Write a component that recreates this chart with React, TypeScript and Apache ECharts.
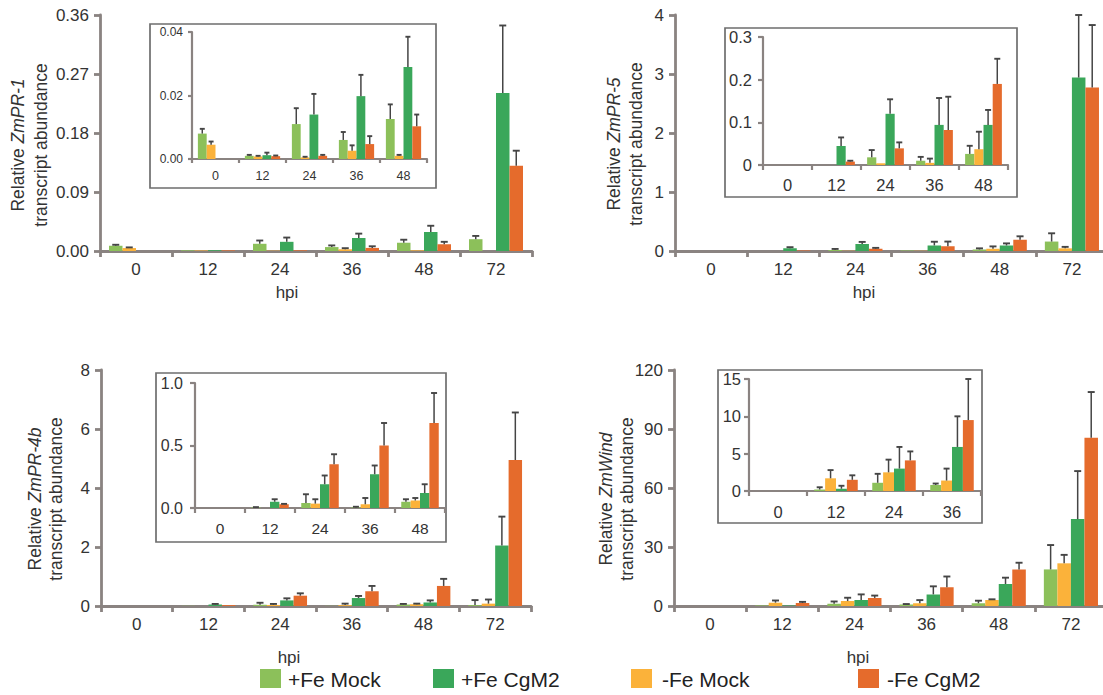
import React, { useEffect, useRef } from 'react';
import * as echarts from 'echarts';

// ---------- data ----------
const hpiLabels = ['0', '12', '24', '36', '48', '72'];
const seriesNames = ['+Fe Mock', '-Fe Mock', '+Fe CgM2', '-Fe CgM2'];
const seriesColors = ['#8cc05a', '#fbb23a', '#3aa75a', '#e56b2c'];

// order of rows: +Fe Mock, -Fe Mock, +Fe CgM2, -Fe CgM2 ; columns: 0,12,24,36,48,72 hpi
const pr1Mean = [
  [0.008, 0.001, 0.011, 0.006, 0.0126, 0.018],
  [0.0045, 0.0008, 0.0005, 0.0026, 0.001, 0],
  [0, 0.0012, 0.014, 0.0198, 0.029, 0.241],
  [0, 0.0009, 0.001, 0.0047, 0.0103, 0.13],
];
const pr1Sd = [
  [0.0015, 0.0003, 0.005, 0.0025, 0.0046, 0.005],
  [0.001, 0.0002, 0.0002, 0.0017, 0.0003, 0],
  [0, 0.0008, 0.0065, 0.0067, 0.0095, 0.103],
  [0, 0.0002, 0.0003, 0.0025, 0.0037, 0.023],
];

const pr5Mean = [
  [0, 0, 0.018, 0.01, 0.026, 0.16],
  [0, 0, 0.004, 0.005, 0.037, 0.045],
  [0, 0.0446, 0.12, 0.094, 0.094, 2.94],
  [0, 0.008, 0.039, 0.082, 0.19, 2.77],
];
const pr5Sd = [
  [0, 0, 0.017, 0.009, 0.019, 0.14],
  [0, 0, 0, 0.01, 0.041, 0.025],
  [0, 0.02, 0.034, 0.063, 0.035, 1.06],
  [0, 0.002, 0.014, 0.078, 0.059, 1.06],
];

const pr4bMean = [
  [0, 0.005, 0.04, 0.005, 0.05, 0.03],
  [0, 0, 0.035, 0.03, 0.06, 0.08],
  [0, 0.05, 0.19, 0.27, 0.12, 2.05],
  [0, 0.03, 0.35, 0.5, 0.68, 4.95],
];
const pr4bSd = [
  [0, 0.002, 0.07, 0.005, 0.02, 0.17],
  [0, 0, 0.035, 0.05, 0.02, 0.14],
  [0, 0.02, 0.07, 0.07, 0.07, 0.98],
  [0, 0.003, 0.08, 0.18, 0.24, 1.61],
];

const windMean = [
  [0, 0.2, 1.1, 0.8, 1.4, 18.6],
  [0, 1.7, 2.5, 1.4, 3.0, 21.7],
  [0, 0.3, 3.0, 5.9, 11.2, 44.2],
  [0, 1.5, 4.1, 9.5, 18.6, 85.6],
];
const windSd = [
  [0, 0.3, 1.2, 0.2, 1.3, 12.4],
  [0, 1.1, 1.7, 1.6, 0.4, 4.3],
  [0, 0.4, 2.9, 4.1, 3.2, 24.4],
  [0, 0.6, 1.2, 5.5, 3.4, 23.2],
];

const geneNames = ['PR-1', 'PR-5', 'PR-4b', 'Wind'];

// ---------- styling / layout ----------
const AXIS = '#8a8381';
const ERR = '#454545';
const LABEL = '#333333';
const FONT = '"Liberation Sans", Arial, Helvetica, sans-serif';

type Plot = {
  left: number; top: number; width: number; height: number;
  max: number; interval: number; dec: number;
  yFont: number; xFont: number; yMargin: number; xMargin: number;
  lw: number; tick: number; n: number; cap: number;
};

const mainPlot = (left: number, top: number, width: number, max: number, interval: number, dec: number): Plot => ({
  left, top, width, height: 236, max, interval, dec,
  yFont: 17, xFont: 17, yMargin: 11, xMargin: 10, lw: 2.8, tick: 6, n: 6, cap: 7,
});

const panels = [
  {
    mean: pr1Mean, sd: pr1Sd, gene: geneNames[0],
    main: mainPlot(100, 15, 432, 0.36, 0.09, 2),
    inset: { left: 192, top: 32, width: 235, height: 127, max: 0.04, interval: 0.02, dec: 2, yFont: 12, xFont: 12.5, yMargin: 9, xMargin: 10, lw: 2.2, tick: 4, n: 5, cap: 5 },
    box: [150, 24, 286, 164],
    title: { x1: 18, x2: 41, y: 145 },
  },
  {
    mean: pr5Mean, sd: pr5Sd, gene: geneNames[1],
    main: mainPlot(675, 15, 433, 4, 1, -1),
    inset: { left: 763, top: 37, width: 245, height: 128, max: 0.3, interval: 0.1, dec: -1, yFont: 16.5, xFont: 16.5, yMargin: 11, xMargin: 11, lw: 2.2, tick: 5, n: 5, cap: 6 },
    box: [725, 28, 292, 169],
    title: { x1: 614, x2: 636, y: 144 },
  },
  {
    mean: pr4bMean, sd: pr4bSd, gene: geneNames[2],
    main: mainPlot(101, 370, 430, 8, 2, -1),
    inset: { left: 195, top: 383, width: 250, height: 125, max: 1, interval: 0.5, dec: 1, yFont: 16, xFont: 15.5, yMargin: 12, xMargin: 12, lw: 2.2, tick: 5, n: 5, cap: 6 },
    box: [156, 373, 290, 169],
    title: { x1: 35, x2: 56, y: 499 },
  },
  {
    mean: windMean, sd: windSd, gene: geneNames[3],
    main: mainPlot(674, 370, 433, 120, 30, -1),
    inset: { left: 749, top: 379, width: 232, height: 112, max: 15, interval: 5, dec: -1, yFont: 16.5, xFont: 16.5, yMargin: 8, xMargin: 12, lw: 2.2, tick: 5, n: 4, cap: 6 },
    box: [718, 370, 264, 153],
    title: { x1: 606, x2: 627, y: 499 },
  },
];

const hpiText = [
  [287, 292], [864, 292], [289, 657], [858, 657],
];
const legendPos = [
  [260, 288], [433, 461], [631, 662], [858, 887],
];
const legendOrder = [0, 2, 1, 3];

function buildOption() {
  const grid: any[] = [];
  const xAxis: any[] = [];
  const yAxis: any[] = [];
  const series: any[] = [];
  const graphic: any[] = [];

  panels.forEach((p) => {
    graphic.push({
      type: 'rect',
      shape: { x: p.box[0], y: p.box[1], width: p.box[2], height: p.box[3] },
      style: { fill: '#ffffff', stroke: '#6e6e6e', lineWidth: 1.7 },
      z: -1,
    });

    [p.main, p.inset].forEach((plot: Plot) => {
      const gi = grid.length;
      grid.push({ left: plot.left, top: plot.top, width: plot.width, height: plot.height, containLabel: false });
      xAxis.push({
        type: 'category',
        gridIndex: gi,
        data: hpiLabels.slice(0, plot.n),
        boundaryGap: true,
        axisLine: { show: true, lineStyle: { color: AXIS, width: plot.lw } },
        axisTick: { show: true, length: plot.tick, lineStyle: { color: AXIS, width: plot.lw } },
        axisLabel: { fontSize: plot.xFont, color: LABEL, fontFamily: FONT, margin: plot.xMargin },
        splitLine: { show: false },
      });
      yAxis.push({
        type: 'value',
        gridIndex: gi,
        min: 0,
        max: plot.max,
        interval: plot.interval,
        axisLine: { show: true, lineStyle: { color: AXIS, width: plot.lw } },
        axisTick: { show: true, length: plot.tick, lineStyle: { color: AXIS, width: plot.lw } },
        axisLabel: {
          fontSize: plot.yFont, color: LABEL, fontFamily: FONT, margin: plot.yMargin,
          formatter: (v: number) => (plot.dec >= 0 ? v.toFixed(plot.dec) : String(Math.round(v * 1000) / 1000)),
        },
        splitLine: { show: false },
      });

      const nSeries = seriesNames.length;
      for (let s = 0; s < nSeries; s++) {
        series.push({
          type: 'bar',
          name: seriesNames[s],
          xAxisIndex: gi,
          yAxisIndex: gi,
          data: p.mean[s].slice(0, plot.n),
          barGap: '0%',
          barCategoryGap: '25%',
          itemStyle: { color: seriesColors[s] },
          silent: true,
        });
      }
      const errData: any[] = [];
      for (let s = 0; s < nSeries; s++) {
        for (let c = 0; c < plot.n; c++) {
          const m = p.mean[s][c];
          const sd = p.sd[s][c];
          if (sd > 0 && m + sd > plot.max * 0.006) errData.push([c, m, m + sd, s]);
        }
      }
      series.push({
        type: 'custom',
        xAxisIndex: gi,
        yAxisIndex: gi,
        data: errData,
        encode: { x: 0, y: 2 },
        silent: true,
        z: 5,
        renderItem: (params: any, api: any) => {
          const c = api.value(0);
          const m = api.value(1);
          const t = api.value(2);
          const s = api.value(3);
          const catW = api.size([1, 0])[0];
          const bw = (catW * 0.75) / nSeries;
          const base = api.coord([c, m]);
          const top = api.coord([c, t]);
          const x = base[0] + (s - (nSeries - 1) / 2) * bw;
          const cap = plot.cap;
          return {
            type: 'group',
            children: [
              { type: 'line', shape: { x1: x, y1: base[1], x2: x, y2: top[1] }, style: { stroke: ERR, lineWidth: 1.5 } },
              { type: 'line', shape: { x1: x - cap / 2, y1: top[1], x2: x + cap / 2, y2: top[1] }, style: { stroke: ERR, lineWidth: 1.9 } },
            ],
          };
        },
      });
    });

    graphic.push({
      type: 'text',
      x: p.title.x1,
      y: p.title.y,
      rotation: Math.PI / 2,
      style: {
        text: '{n|Relative }{i|Zm' + p.gene + '}',
        align: 'center',
        verticalAlign: 'middle',
        rich: {
          n: { fontSize: 17.5, fontFamily: FONT, fill: LABEL },
          i: { fontSize: 17.5, fontFamily: FONT, fontStyle: 'italic', fill: LABEL },
        },
      },
    });
    graphic.push({
      type: 'text',
      x: p.title.x2,
      y: p.title.y,
      rotation: Math.PI / 2,
      style: {
        text: 'transcript abundance',
        align: 'center',
        verticalAlign: 'middle',
        fontSize: 17.5,
        fontFamily: FONT,
        fill: LABEL,
      },
    });
  });

  hpiText.forEach(([x, y]) => {
    graphic.push({
      type: 'text', x, y,
      style: { text: 'hpi', align: 'center', verticalAlign: 'middle', fontSize: 17, fontFamily: FONT, fill: LABEL },
    });
  });

  legendOrder.forEach((s, i) => {
    const [sx, tx] = legendPos[i];
    graphic.push({
      type: 'rect',
      shape: { x: sx, y: 669, width: 21, height: 19 },
      style: { fill: seriesColors[s] },
    });
    graphic.push({
      type: 'text', x: tx, y: 679,
      style: { text: seriesNames[s], align: 'left', verticalAlign: 'middle', fontSize: 21, fontFamily: FONT, fill: '#222222' },
    });
  });

  return {
    animation: false,
    backgroundColor: '#ffffff',
    textStyle: { fontFamily: FONT },
    grid,
    xAxis,
    yAxis,
    series,
    graphic: { elements: graphic },
  };
}

export default function App() {
  const ref = useRef<HTMLDivElement>(null);
  useEffect(() => {
    if (!ref.current) return;
    const chart = echarts.init(ref.current, undefined, { renderer: 'svg' });
    chart.setOption(buildOption() as any);
    return () => chart.dispose();
  }, []);
  return (
    <div
      ref={ref}
      style={{ position: 'fixed', left: 0, top: 0, width: 1110, height: 695, background: '#fff' }}
    />
  );
}
